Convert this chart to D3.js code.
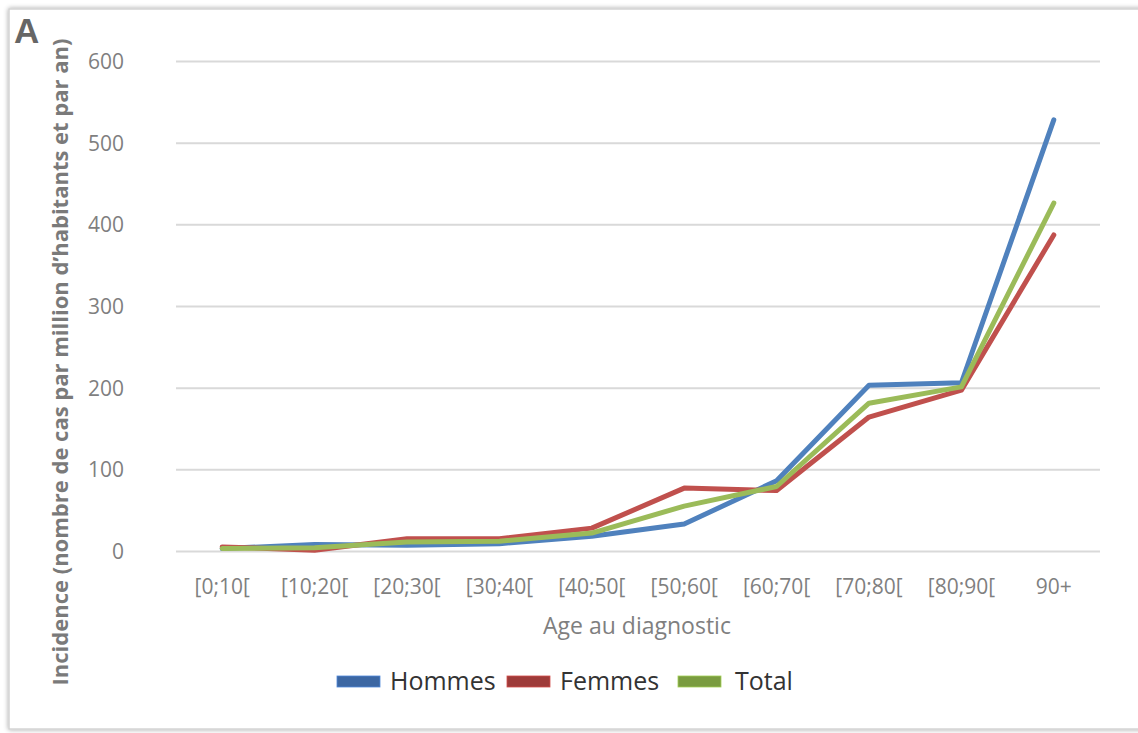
<!DOCTYPE html>
<html><head><meta charset="utf-8">
<script src="https://cdn.jsdelivr.net/npm/d3@7"></script>
<style>
html,body{margin:0;padding:0;background:#fff;}
svg{display:block;}
</style></head>
<body>
<svg id="chart" width="1138" height="733"></svg>
<script>
const categories = ["[0;10[", "[10;20[", "[20;30[", "[30;40[", "[40;50[", "[50;60[", "[60;70[", "[70;80[", "[80;90[", "90+"];
const hommes = [3, 8, 7, 9, 18, 33, 86, 203, 206, 528];
const femmes = [5, 1, 15, 15, 28, 77, 74, 164, 197, 387];
const total  = [3, 4, 11, 12, 22, 55, 79, 181, 201, 426];
const yTicks = [0, 100, 200, 300, 400, 500, 600];
const seriesNames = ["Hommes", "Femmes", "Total"];
const seriesColors = ["#4f81bd", "#c0504d", "#9bbb59"];
const legendColors = ["#3c67a3", "#9e3b39", "#7a9c40"];

(function(){
const svg = d3.select("#chart");
const W = 1138, H = 733;
const defs = svg.append("defs");
const f = defs.append("filter").attr("id","sh").attr("x","-5%").attr("y","-5%").attr("width","110%").attr("height","110%");
f.append("feGaussianBlur").attr("in","SourceAlpha").attr("stdDeviation",2.5);
f.append("feOffset").attr("dx",0).attr("dy",0).attr("result","b");
f.append("feComponentTransfer").append("feFuncA").attr("type","linear").attr("slope",0.35);
const m = f.append("feMerge"); m.append("feMergeNode"); m.append("feMergeNode").attr("in","SourceGraphic");

svg.append("rect").attr("x",9).attr("y",9).attr("width",W+20).attr("height",720)
  .attr("fill","#fff").attr("stroke","#d4d4d4").attr("stroke-width",1.5).attr("filter","url(#sh)");

const pL = 176, pR = 1100, pT = 61, pB = 551;
const xb = d3.scaleBand().domain(categories).range([pL, pR]).paddingInner(0).paddingOuter(0);
const x = c => xb(c) + xb.bandwidth()/2;
const y = d3.scaleLinear().domain([0, 600]).range([pB, pT]);

// gridlines
const grid = svg.append("g").attr("transform",`translate(${pL},0)`)
  .call(d3.axisLeft(y).tickValues(yTicks).tickSize(-(pR-pL)).tickFormat(""));
grid.select(".domain").remove();
grid.selectAll(".tick line").attr("stroke","#d9d9d9").attr("stroke-width",2);

// y tick labels
const ya = svg.append("g").attr("transform",`translate(124,0)`)
  .call(d3.axisLeft(y).tickValues(yTicks).tickSize(0).tickPadding(0).tickFormat(d3.format("d")));
ya.select(".domain").remove();
ya.selectAll("text").attr("font-family","'Open Sans', sans-serif").attr("font-size",21)
  .attr("fill","#7f7f7f").attr("text-anchor","end").attr("dy","0.35em");

// x tick labels
const xa = svg.append("g").attr("transform",`translate(0,${pB})`)
  .call(d3.axisBottom(xb).tickSize(0).tickPadding(0));
xa.select(".domain").remove();
xa.selectAll("text").attr("font-family","'Open Sans', sans-serif").attr("font-size",21)
  .attr("fill","#7f7f7f").attr("y",36).attr("dy","0.35em");

// axis titles
svg.append("text").attr("x",637).attr("y",626).attr("dy","0.35em").attr("text-anchor","middle")
  .attr("font-family","'Open Sans', sans-serif").attr("font-size",23).attr("fill","#7f7f7f")
  .text("Age au diagnostic");
svg.append("text").attr("transform","translate(60,362) rotate(-90)").attr("dy","0.35em").attr("text-anchor","middle")
  .attr("font-family","'Open Sans', sans-serif").attr("font-weight","bold").attr("font-size",22).attr("fill","#7a7a7a")
  .text("Incidence (nombre de cas par million d’habitants et par an)");

// panel label
svg.append("text").attr("x",14).attr("y",43).attr("font-family","'Liberation Sans', Arial, sans-serif")
  .attr("font-weight","bold").attr("font-size",35).attr("fill","#666").text("A");

// lines
const series = [hommes, femmes, total];
const line = d3.line().x((d,i)=>x(categories[i])).y(d=>y(d));
series.forEach((s,k)=>{
  svg.append("path").datum(s).attr("d",line).attr("fill","none").attr("stroke",seriesColors[k])
    .attr("stroke-width",5).attr("stroke-linejoin","round").attr("stroke-linecap","round");
});

// legend
const legX = [337, 507, 678];
seriesNames.forEach((n,k)=>{
  svg.append("rect").attr("x",legX[k]).attr("y",676).attr("width",43).attr("height",11)
    .attr("fill",legendColors[k]).attr("stroke",d3.color(legendColors[k]).brighter(0.8)).attr("stroke-width",0.8);
  svg.append("text").attr("x",legX[k]+(k===2?57:53)).attr("y",681).attr("dy","0.35em")
    .attr("font-family","'Open Sans', sans-serif").attr("font-size",25).attr("fill","#333").text(n);
});
})();
</script>
</body></html>
